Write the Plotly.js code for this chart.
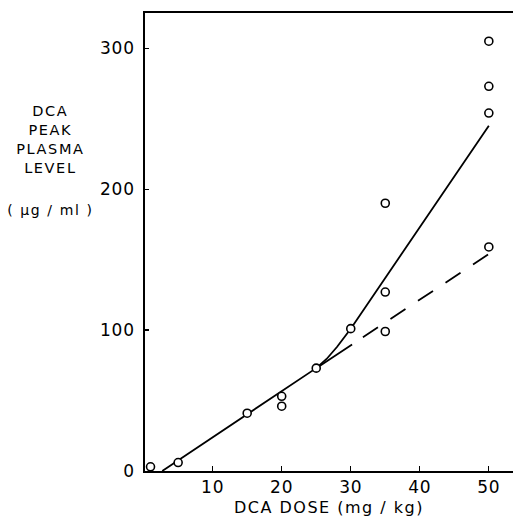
<!DOCTYPE html>
<html>
<head>
<meta charset="utf-8">
<script src="https://cdn.plot.ly/plotly-3.0.1.min.js"></script>
<style>
  html, body { margin: 0; padding: 0; background: #fff; }
  #chart { width: 513px; height: 529px; }
  .js-plotly-plot .annotation-text { letter-spacing: 1.6px; }
  .js-plotly-plot .g-xtitle text { letter-spacing: 1.5px; }
  .js-plotly-plot .xtick text, .js-plotly-plot .ytick text { letter-spacing: 0.8px; }
</style>
</head>
<body>
<div id="chart"></div>
<script>
// Observed data points: DCA dose (mg/kg) vs peak plasma level (µg/ml)
const doseX = [1, 5, 15, 20, 20, 25, 30, 35, 35, 35, 50, 50, 50, 50];
const levelY = [3, 6, 41, 53, 46, 73, 101, 190, 127, 99, 305, 273, 254, 159];

// Solid fitted curve
const solidX = [2.7, 25, 26.5, 28, 30, 50];
const solidY = [0, 73, 79.5, 88, 101, 245];

// Dashed linear extension
const dashX = [25, 50];
const dashY = [73, 154];

// Tick values / labels
const xTickVals = [10, 20, 30, 40, 50];
const xTickText = ['10', '20', '30', '40', '50'];
const yTickVals = [0, 100, 200, 300];
const yTickText = ['0', '100', '200', '300'];

const FONT = 'DejaVu Sans, Liberation Sans, sans-serif';

const traces = [
  {
    x: solidX, y: solidY, type: 'scatter', mode: 'lines',
    line: { color: '#000', width: 1.8 }, hoverinfo: 'skip', showlegend: false
  },
  {
    x: dashX, y: dashY, type: 'scatter', mode: 'lines',
    line: { color: '#000', width: 1.8,
            dash: '43px,13px,18px,15px,18px,15px,18px,15px,18px,15px,18px,15px,18px,15px' },
    hoverinfo: 'skip', showlegend: false
  },
  {
    x: doseX, y: levelY, type: 'scatter', mode: 'markers',
    marker: { symbol: 'circle', size: 8, color: '#fff', line: { color: '#000', width: 1.6 } },
    cliponaxis: false, showlegend: false
  }
];

const layout = {
  width: 513, height: 529,
  margin: { l: 145, r: 0, t: 13, b: 58 },
  paper_bgcolor: '#fff', plot_bgcolor: '#fff',
  font: { family: FONT, color: '#000', size: 16 },
  showlegend: false,
  xaxis: {
    range: [0.2, 53.5],
    tickvals: xTickVals, ticktext: xTickText,
    ticks: 'inside', ticklen: 5, tickwidth: 1.3, tickcolor: '#000',
    showline: true, linecolor: '#000', linewidth: 1.8, mirror: true,
    showgrid: false, zeroline: false,
    tickfont: { family: FONT, size: 17, color: '#000' },
    title: { text: 'DCA DOSE (mg / kg)', font: { family: FONT, size: 16, color: '#000' }, standoff: 5 }
  },
  yaxis: {
    range: [0, 325],
    tickvals: yTickVals, ticktext: yTickText,
    ticks: 'inside', ticklen: 4, tickwidth: 1.3, tickcolor: '#000',
    showline: true, linecolor: '#000', linewidth: 1.8, mirror: false,
    showgrid: false, zeroline: false,
    ticklabelstandoff: 5,
    tickfont: { family: FONT, size: 17, color: '#000' }
  },
  annotations: [
    {
      xref: 'paper', yref: 'paper', x: -0.256, y: 0.724,
      xanchor: 'center', yanchor: 'middle', align: 'center', showarrow: false,
      text: 'DCA<br>PEAK<br>PLASMA<br>LEVEL',
      font: { family: FONT, size: 14.5, color: '#000' }
    },
    {
      xref: 'paper', yref: 'paper', x: -0.256, y: 0.570,
      xanchor: 'center', yanchor: 'middle', align: 'center', showarrow: false,
      text: '( μg / ml )',
      font: { family: FONT, size: 14, color: '#000' }
    }
  ]
};

Plotly.newPlot('chart', traces, layout, { staticPlot: true, displayModeBar: false });
</script>
</body>
</html>
